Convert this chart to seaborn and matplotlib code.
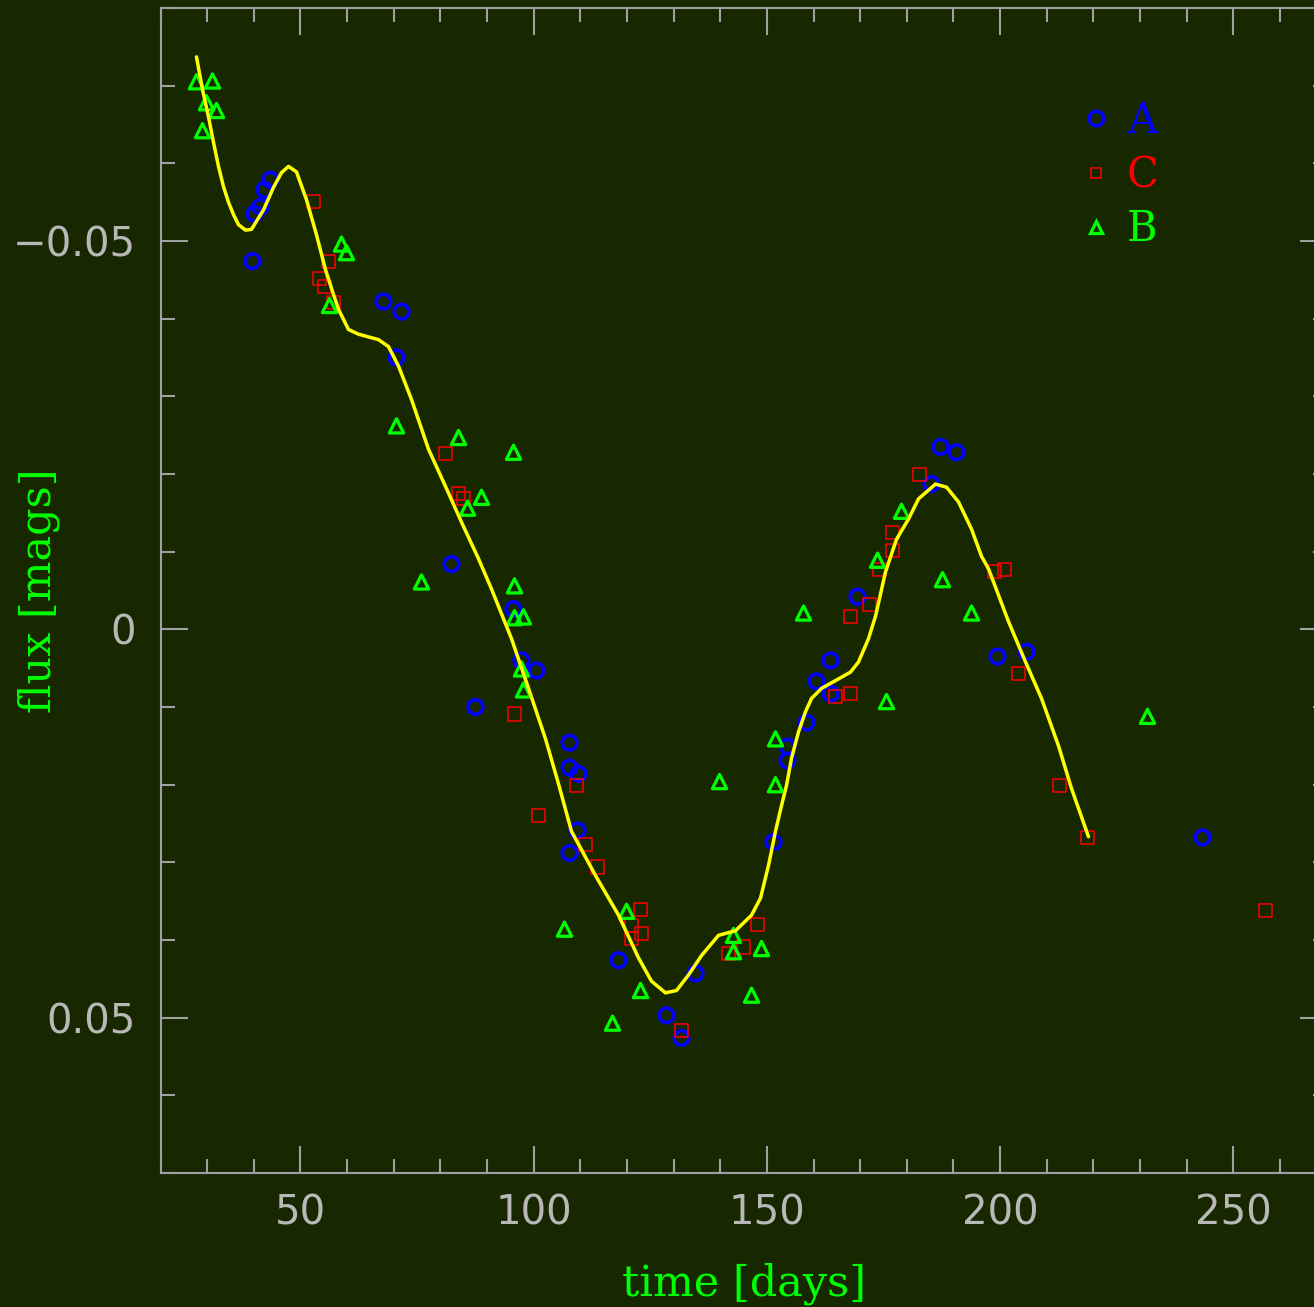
import matplotlib
matplotlib.use("Agg")
import matplotlib.pyplot as plt
from matplotlib.ticker import MultipleLocator, FixedLocator, FixedFormatter
from matplotlib.lines import Line2D
import seaborn as sns

BG = "#172800"
AXIS_GRAY = "#a0a0a0"
TEXT_GRAY = "#b8b8b8"
GREEN = "#00ff00"
BLUE = "#0000ff"
RED = "#ff0000"
YELLOW = "#ffff00"

# band A (blue circles)
a_time = [39.71, 43.57, 42.28, 41.42, 40.14, 67.80, 71.66, 70.58, 82.38, 95.67,
          97.38, 100.60, 87.52, 107.68, 107.68, 109.61, 109.39, 107.68, 118.18, 134.69,
          128.47, 131.69, 151.41, 154.42, 154.42, 158.49, 160.63, 163.64, 163.64, 169.43,
          187.22, 190.65, 185.29, 199.44, 205.66, 243.40]
a_flux = [-0.0474, -0.0579, -0.0566, -0.0544, -0.0535, -0.0422, -0.0409, -0.0350, -0.0084, -0.0026,
          0.0040, 0.0053, 0.0100, 0.0146, 0.0178, 0.0186, 0.0259, 0.0288, 0.0426, 0.0443,
          0.0497, 0.0526, 0.0274, 0.0151, 0.0169, 0.0120, 0.0067, 0.0083, 0.0040, -0.0042,
          -0.0235, -0.0228, -0.0187, 0.0035, 0.0029, 0.0268]

# band C (red squares)
c_time = [52.79, 56.00, 54.07, 55.15, 57.08, 81.09, 83.88, 84.95, 95.88, 101.03,
          109.18, 111.11, 113.68, 122.90, 120.97, 123.11, 120.97, 131.69, 147.99, 144.98,
          141.77, 164.71, 167.93, 167.93, 172.00, 176.93, 176.93, 174.14, 182.72, 198.80,
          200.94, 203.95, 212.74, 218.74, 256.90]
c_flux = [-0.0551, -0.0474, -0.0452, -0.0441, -0.0421, -0.0227, -0.0175, -0.0168, 0.0109, 0.0240,
          0.0201, 0.0277, 0.0306, 0.0361, 0.0381, 0.0391, 0.0398, 0.0517, 0.0380, 0.0409,
          0.0417, 0.0086, 0.0083, -0.0016, -0.0032, -0.0101, -0.0125, -0.0077, -0.0199, -0.0074,
          -0.0077, 0.0057, 0.0201, 0.0268, 0.0362]

# band B (green triangles)
b_time = [27.70, 31.13, 29.85, 31.99, 28.99, 58.79, 59.86, 56.22, 70.58, 83.88,
          95.67, 88.81, 85.81, 75.94, 95.88, 95.88, 97.81, 97.38, 97.81, 106.60,
          119.90, 122.90, 116.90, 139.84, 142.84, 142.84, 148.84, 146.70, 151.84, 151.84,
          157.85, 175.64, 173.71, 178.86, 187.65, 193.87, 231.60]
b_flux = [-0.0705, -0.0706, -0.0678, -0.0668, -0.0642, -0.0496, -0.0485, -0.0417, -0.0262, -0.0247,
          -0.0228, -0.0170, -0.0156, -0.0061, -0.0056, -0.0015, -0.0016, 0.0051, 0.0078, 0.0386,
          0.0363, 0.0465, 0.0507, 0.0196, 0.0394, 0.0415, 0.0411, 0.0471, 0.0141, 0.0200,
          -0.0021, 0.0093, -0.0089, -0.0152, -0.0064, -0.0021, 0.0112]

# smooth fit (yellow)
curve_time = [27.70, 28.99, 30.27, 31.35, 32.42, 33.49, 34.56, 35.63, 36.71, 38.21,
              39.49, 42.07, 44.21, 45.93, 47.43, 49.14, 51.29, 53.43, 55.36, 57.08,
              58.15, 60.29, 62.44, 66.72, 68.87, 71.01, 73.80, 77.44, 81.09, 84.52,
              88.16, 90.95, 95.24, 98.89, 102.53, 105.32, 108.10, 113.25, 118.18, 122.47,
              125.26, 128.26, 130.62, 133.19, 135.98, 139.62, 143.27, 146.70, 148.63, 150.34,
              151.84, 153.13, 154.20, 155.27, 156.78, 158.28, 159.56, 161.71, 164.71, 167.93,
              169.64, 171.78, 173.29, 175.43, 177.79, 180.36, 182.50, 186.15, 188.51, 191.08,
              193.87, 196.01, 197.51, 201.80, 205.45, 208.88, 212.52, 215.31, 218.95]
curve_flux = [-0.0737, -0.0695, -0.0660, -0.0627, -0.0596, -0.0570, -0.0550, -0.0534, -0.0521, -0.0514,
              -0.0515, -0.0540, -0.0569, -0.0588, -0.0596, -0.0589, -0.0553, -0.0508, -0.0463, -0.0431,
              -0.0412, -0.0386, -0.0380, -0.0373, -0.0364, -0.0339, -0.0296, -0.0232, -0.0184, -0.0138,
              -0.0091, -0.0052, 0.0012, 0.0076, 0.0141, 0.0199, 0.0260, 0.0317, 0.0368, 0.0423,
              0.0453, 0.0468, 0.0465, 0.0445, 0.0420, 0.0394, 0.0388, 0.0368, 0.0346, 0.0304,
              0.0260, 0.0227, 0.0201, 0.0166, 0.0132, 0.0106, 0.0089, 0.0076, 0.0066, 0.0055,
              0.0042, 0.0012, -0.0017, -0.0074, -0.0116, -0.0142, -0.0168, -0.0187, -0.0183, -0.0164,
              -0.0129, -0.0094, -0.0078, -0.0010, 0.0042, 0.0089, 0.0150, 0.0205, 0.0267]

y_tick_values = [-0.05, 0.0, 0.05]
y_tick_labels = ["\u22120.05", "0", "0.05"]
legend_labels = ["A", "C", "B"]

sns.set_theme(style="ticks", rc={
    "figure.facecolor": BG,
    "axes.facecolor": BG,
    "savefig.facecolor": BG,
    "axes.edgecolor": AXIS_GRAY,
    "axes.linewidth": 1.5,
    "axes.grid": False,
})
plt.rcParams["font.family"] = ["DejaVu Sans"]

fig = plt.figure(figsize=(13.14, 13.07), dpi=100)
# right spine sits just outside the picture, as in the original
ax = fig.add_axes([0.1222, 0.1025, 0.8874, 0.8914])

marker_styles = [
    (a_time, a_flux, "o", 110, 2.6, BLUE),
    (c_time, c_flux, "s", 88, 1.1, RED),
    (b_time, b_flux, "^", 105, 2.3, GREEN),
]
for t, f, mk, size, lw, col in marker_styles:
    sns.scatterplot(x=t, y=f, marker=mk, s=size, color="none", edgecolor=col,
                    linewidth=lw, ax=ax, zorder=2)

sns.lineplot(x=curve_time, y=curve_flux, sort=False, estimator=None, color=YELLOW,
             linewidth=2.5, ax=ax, zorder=3)

ax.set_xlim(20, 270)
ax.set_ylim(0.07, -0.08)

ax.xaxis.set_major_locator(MultipleLocator(50))
ax.xaxis.set_minor_locator(MultipleLocator(10))
ax.yaxis.set_major_locator(FixedLocator(y_tick_values))
ax.yaxis.set_major_formatter(FixedFormatter(y_tick_labels))
ax.yaxis.set_minor_locator(MultipleLocator(0.01))

ax.tick_params(which="both", direction="in", top=True, right=True,
               color=AXIS_GRAY, width=1.5)
ax.tick_params(which="major", length=19.5)
ax.tick_params(which="minor", length=10)
ax.tick_params(axis="x", which="major", pad=15, labelsize=29, labelcolor=TEXT_GRAY)
ax.tick_params(axis="y", which="major", pad=18, labelsize=29, labelcolor=TEXT_GRAY)

label_font = {"family": "DejaVu Serif", "size": 31}
ax.set_xlabel("time [days]", color=GREEN, fontdict=label_font)
ax.set_ylabel("flux [mags]", color=GREEN, fontdict=label_font)
ax.xaxis.set_label_coords(0.5, -0.0764)
ax.yaxis.set_label_coords(-0.0862, 0.5)

handles = [
    Line2D([], [], ls="none", marker="o", mfc="none", mec=BLUE, ms=10.4, mew=2.6),
    Line2D([], [], ls="none", marker="s", mfc="none", mec=RED, ms=7.2, mew=1.1),
    Line2D([], [], ls="none", marker="^", mfc="none", mec=GREEN, ms=8.5, mew=2.3),
]
ax.legend(handles, legend_labels, loc="upper left", bbox_to_anchor=(0.784, 0.921),
          frameon=False, prop={"family": "DejaVu Serif", "size": 30},
          labelcolor=[BLUE, RED, GREEN], handlelength=1.0, handletextpad=0.25,
          labelspacing=0.29, borderpad=0, borderaxespad=0)

fig.savefig("out.png", dpi=100, facecolor=BG)
